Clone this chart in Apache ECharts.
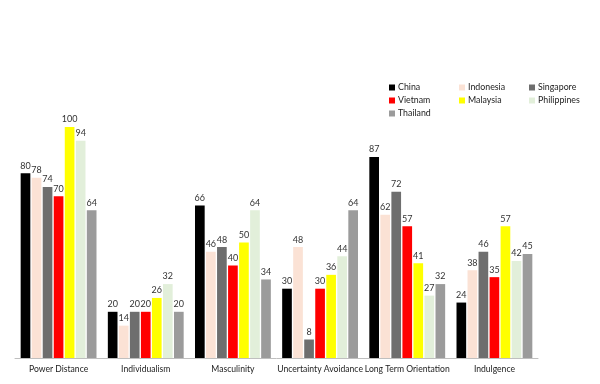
<!DOCTYPE html>
<html><head><meta charset="utf-8">
<script src="https://cdn.jsdelivr.net/npm/echarts@6/dist/echarts.min.js"></script>
<style>html,body{margin:0;padding:0;background:#fff}#c{width:600px;height:384px}</style>
</head><body><div id="c"></div>
<script>
const categories = ["Power Distance","Individualism","Masculinity","Uncertainty Avoidance","Long Term Orientation","Indulgence"];
const seriesNames = ["China","Indonesia","Singapore","Vietnam","Malaysia","Philippines","Thailand"];
const china = [80,20,66,30,87,24];
const indonesia = [78,14,46,48,62,38];
const singapore = [74,20,48,8,72,46];
const vietnam = [70,20,40,30,57,35];
const malaysia = [100,26,50,36,41,57];
const philippines = [94,32,64,44,27,42];
const thailand = [64,20,34,64,32,45];
const values = [china,indonesia,singapore,vietnam,malaysia,philippines,thailand];
const colors = ["#000000","#FBE2D5","#6E6E6E","#FF0000","#FFFF00","#E2EFDA","#9B9B9B"];
const FONT = "Lato";
const chart = echarts.init(document.getElementById('c'));
const legendCommon = {orient:'vertical', itemWidth:6, itemHeight:6, itemGap:4, icon:'rect',
  textStyle:{fontFamily:FONT,fontSize:8.8,color:'#222',padding:[0,0,0,-2]}, padding:0, selectedMode:false};
chart.setOption({
  animation:false,
  color:colors,
  textStyle:{fontFamily:FONT},
  legend:[
    Object.assign({left:389, top:83, data:["China","Vietnam","Thailand"]}, legendCommon),
    Object.assign({left:459, top:83, data:["Indonesia","Malaysia"]}, legendCommon),
    Object.assign({left:529, top:83, data:["Singapore","Philippines"]}, legendCommon)
  ],
  grid:{left:15, right:62, top:127, bottom:26, containLabel:false},
  xAxis:{type:'category', data:categories,
    axisLine:{lineStyle:{color:'#BFBFBF'}},
    axisTick:{length:4, lineStyle:{color:'#BFBFBF'}},
    axisLabel:{interval:0, fontFamily:FONT, fontSize:8.6, color:'#222', margin:7}},
  yAxis:{type:'value', min:0, max:100, show:false, splitLine:{show:false}},
  series: seriesNames.map((n,i)=>({
    name:n, type:'bar', data:values[i], barGap:'14%', barCategoryGap:'13%',
    label:{show:true, position:'top', distance:3, fontFamily:FONT, fontSize:9, color:'#333'}
  }))
});
</script></body></html>
